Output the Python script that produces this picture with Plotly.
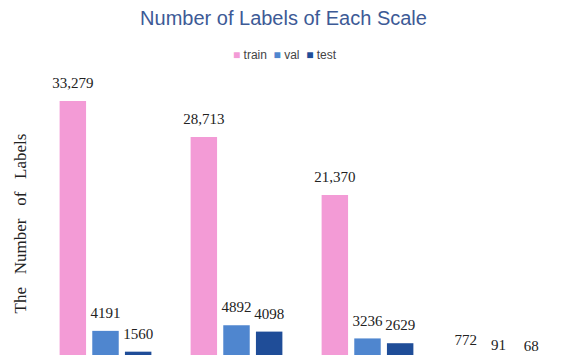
import plotly.graph_objects as go

categories = ["Scale 1", "Scale 2", "Scale 3", "Scale 4"]
train = [33279, 28713, 21370, 772]
val = [4191, 4892, 3236, 91]
test = [1560, 4098, 2629, 68]
series_names = ["train", "val", "test"]
colors = ["#f39bd6", "#4f86cf", "#1f4d98"]

# page body has an 8px margin; the plot's baseline sits just below the visible window
W, H = 571, 356
ml, mr, mt, mb = 32, 15, 72, 0
PW, PH = W - ml - mr, H - mt - mb

fig = go.Figure()
for name, vals, col in zip(series_names, [train, val, test], colors):
    fig.add_trace(go.Bar(
        x=categories, y=vals, name=name, marker=dict(color=col, line=dict(width=0)),
        showlegend=False, offsetgroup=name,
    ))
for name, vals in zip(series_names, [train, val, test]):
    fig.add_trace(go.Scatter(
        x=categories, y=vals, mode="markers+text",
        text=[f"{v:,}" if v >= 10000 else str(v) for v in vals],
        textposition="top center",
        textfont=dict(family="Liberation Serif", size=15, color="#222222"),
        marker=dict(size=13, color="rgba(0,0,0,0)"),
        cliponaxis=False, showlegend=False, hoverinfo="skip", offsetgroup=name,
    ))

legend_text = "\u00a0\u00a0".join(
    f"<span style='color:{c}'>■</span> {n}" for n, c in zip(series_names, colors)
)

fig.update_layout(
    width=W, height=H,
    margin=dict(l=ml, r=mr, t=mt, b=mb, pad=0),
    paper_bgcolor="white", plot_bgcolor="white",
    barmode="group", bargap=0.252, bargroupgap=0.19,
    scattermode="group", scattergap=0.252,
    title=dict(text="Number of Labels of Each Scale", x=275.5 / W, xanchor="center",
               y=1, yanchor="top", pad=dict(t=3),
               font=dict(family="Liberation Sans", size=20, color="#3d5a96")),
    xaxis=dict(showticklabels=False, showgrid=False, zeroline=False, showline=False, ticks=""),
    yaxis=dict(range=[0, 35926], showticklabels=False, showgrid=False, zeroline=False,
               showline=False, ticks=""),
    showlegend=False,
    annotations=[
        dict(text="The\u00a0\u00a0\u00a0Number\u00a0\u00a0\u00a0of\u00a0\u00a0\u00a0Labels",
             xref="paper", yref="paper", x=(12 - ml) / PW, y=(H - 215.5) / PH,
             xanchor="center", yanchor="middle", textangle=-90, showarrow=False,
             font=dict(family="Liberation Serif", size=17, color="#222222")),
        dict(text=legend_text, xref="paper", yref="paper",
             x=(277 - ml) / PW, y=(H - 47) / PH,
             xanchor="center", yanchor="middle", showarrow=False,
             font=dict(family="Liberation Sans", size=12, color="#444444")),
    ],
)

fig.write_html("out.html")
